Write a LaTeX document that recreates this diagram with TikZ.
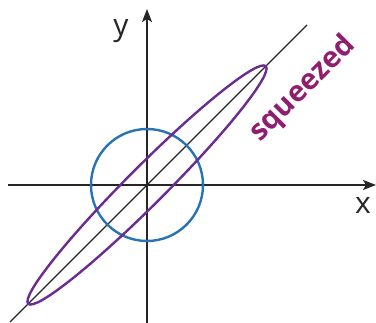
\documentclass[tikz,border=0pt]{standalone}
\usepackage{fontspec}
\setmainfont{Open Sans}
\usetikzlibrary{arrows.meta}
\definecolor{circblue}{HTML}{2872B6}
\definecolor{ellpurple}{HTML}{6B2C91}
\definecolor{txtmagenta}{HTML}{8E1E6E}
\begin{document}
\begin{tikzpicture}[x=1pt,y=-1pt,
  axis/.style={line width=1.8pt,draw=black!85,-{Stealth[length=13pt,width=10pt,inset=3pt]}},
  diag/.style={line width=1.2pt,draw=black!85},
  lbl/.style={font=\fontsize{30}{30}\selectfont,text=black!85,inner sep=0pt}]
\useasboundingbox (0,0) rectangle (376,323);
\coordinate (O) at (147,185);
\coordinate (xs) at (8,185);
\coordinate (xe) at (376,185);
\coordinate (ys) at (147,323);
\coordinate (ye) at (147,9);
\coordinate (ds) at (10,322);
\coordinate (de) at (307,25);
\draw[diag] (ds) -- (de);
\draw[axis] (xs) -- (xe);
\draw[axis] (ys) -- (ye);
\draw[circblue,line width=2.4pt] (O) circle[radius=56];
\draw[ellpurple,line width=2.4pt,rotate around={45:(O)}] (O) ellipse[x radius=168,y radius=19];
\node[lbl] (ylab) at (121,31) {y};
\node[lbl] (xlab) at (363,205) {x};
\node[font=\fontsize{29}{29}\selectfont\bfseries,text=txtmagenta,rotate=45,inner sep=0pt] (sq) at (303,89) {squeezed};
\end{tikzpicture}
\end{document}
